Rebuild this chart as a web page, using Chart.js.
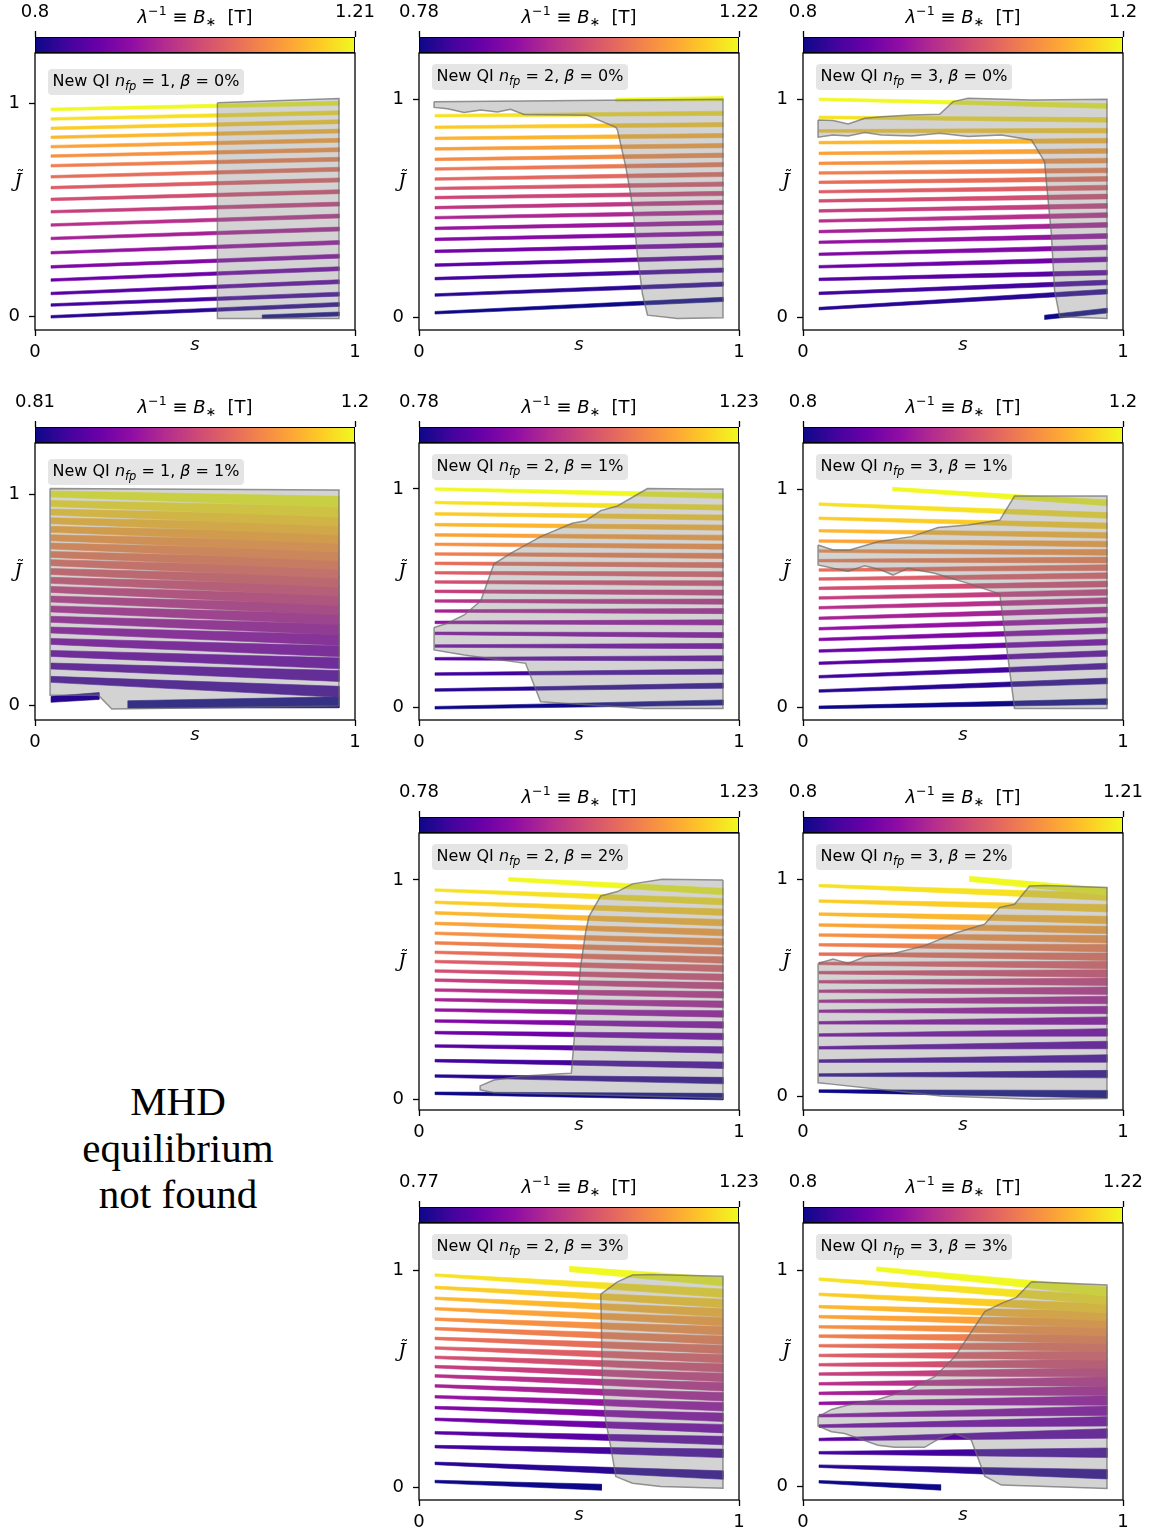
<!DOCTYPE html>
<html lang="en">
<head>
  <meta charset="UTF-8">
  <title>Second adiabatic invariant vs. s</title>
  <script src="https://cdn.jsdelivr.net/npm/chart.js"></script>
  <style>
    body {
      margin: 0;
      width: 1155px;
      height: 1535px;
      overflow: hidden;
      position: relative;
      background: #fff;
    }
    canvas { position: absolute; }
    .missing {
      position: absolute;
      left: 0;
      top: 1078px;
      width: 356px;
      text-align: center;
      font: 41px/46.5px 'Liberation Serif', serif;
      color: #000;
    }
  </style>
</head>
<body>
  <div class="missing">MHD<br>equilibrium<br>not found</div>

  <script>
    // ---------- data ----------
    const panelNfp  = [1, 2, 3, 1, 2, 3, 2, 3, 2, 3];
    const panelBeta = [0, 0, 0, 1, 1, 1, 2, 2, 3, 3];
    const bMin = [0.8, 0.78, 0.8, 0.81, 0.78, 0.8, 0.78, 0.8, 0.77, 0.8];
    const bMax = [1.21, 1.22, 1.2, 1.2, 1.23, 1.2, 1.23, 1.21, 1.23, 1.22];
    const jLow  = [-0.062, -0.056, -0.058, -0.071, -0.056, -0.058, -0.049, -0.061, -0.057, -0.061];
    const jHigh = [1.236, 1.212, 1.212, 1.244, 1.21, 1.211, 1.214, 1.213, 1.22, 1.217];
    const sTicks = [0, 1];
    const jTicks = [0, 1];

    // one entry per B* level, from highest to lowest: [s start, s end, J at start, J at end]
    const bands1 = [
      [0.05, 0.95, 0.972, 1.000], [0.05, 0.95, 0.927, 0.956], [0.05, 0.95, 0.883, 0.914],
      [0.05, 0.95, 0.841, 0.870], [0.05, 0.95, 0.797, 0.827], [0.05, 0.95, 0.753, 0.783],
      [0.05, 0.95, 0.708, 0.738], [0.05, 0.95, 0.656, 0.691], [0.05, 0.95, 0.605, 0.641],
      [0.05, 0.95, 0.550, 0.586], [0.05, 0.95, 0.492, 0.528], [0.05, 0.95, 0.430, 0.472],
      [0.05, 0.95, 0.367, 0.411], [0.05, 0.95, 0.300, 0.348], [0.05, 0.95, 0.234, 0.284],
      [0.05, 0.95, 0.172, 0.225], [0.05, 0.95, 0.109, 0.164], [0.05, 0.95, 0.055, 0.106],
      [0.05, 0.95, 0.000, 0.058], [0.71, 0.95, 0.000, 0.013]
    ];
    const bands2 = [
      [0.615, 0.95, 0.997, 1.003], [0.05, 0.95, 0.925, 0.936], [0.05, 0.95, 0.872, 0.884],
      [0.05, 0.95, 0.821, 0.834], [0.05, 0.95, 0.773, 0.788], [0.05, 0.95, 0.725, 0.744],
      [0.05, 0.95, 0.681, 0.701], [0.05, 0.95, 0.635, 0.656], [0.05, 0.95, 0.592, 0.612],
      [0.05, 0.95, 0.550, 0.569], [0.05, 0.95, 0.504, 0.528], [0.05, 0.95, 0.458, 0.482],
      [0.05, 0.95, 0.409, 0.435], [0.05, 0.95, 0.359, 0.386], [0.05, 0.95, 0.304, 0.333],
      [0.05, 0.95, 0.241, 0.276], [0.05, 0.95, 0.179, 0.218], [0.05, 0.95, 0.104, 0.154],
      [0.05, 0.95, 0.023, 0.084]
    ];
    const bands3 = [
      [0.05, 0.95, 1.000, 0.969], [0.05, 0.95, 0.917, 0.905], [0.05, 0.95, 0.855, 0.856],
      [0.05, 0.95, 0.801, 0.810], [0.05, 0.95, 0.752, 0.763], [0.05, 0.95, 0.706, 0.719],
      [0.05, 0.95, 0.662, 0.674], [0.05, 0.95, 0.619, 0.635], [0.05, 0.95, 0.576, 0.595],
      [0.05, 0.95, 0.534, 0.554], [0.05, 0.95, 0.488, 0.511], [0.05, 0.95, 0.442, 0.469],
      [0.05, 0.95, 0.393, 0.424], [0.05, 0.95, 0.344, 0.373], [0.05, 0.95, 0.289, 0.321],
      [0.05, 0.95, 0.232, 0.266], [0.05, 0.95, 0.174, 0.205], [0.05, 0.95, 0.110, 0.160],
      [0.05, 0.95, 0.040, 0.118], [0.755, 0.95, 0.000, 0.031]
    ];
    const bands4 = [
      [0.05, 0.95, 1.002, 0.965], [0.05, 0.95, 0.957, 0.918], [0.05, 0.95, 0.916, 0.875],
      [0.05, 0.95, 0.875, 0.834], [0.05, 0.95, 0.834, 0.793], [0.05, 0.95, 0.794, 0.752],
      [0.05, 0.95, 0.755, 0.710], [0.05, 0.95, 0.715, 0.669], [0.05, 0.95, 0.676, 0.628],
      [0.05, 0.95, 0.634, 0.585], [0.05, 0.95, 0.592, 0.543], [0.05, 0.95, 0.549, 0.498],
      [0.05, 0.95, 0.503, 0.454], [0.05, 0.95, 0.456, 0.407], [0.05, 0.95, 0.407, 0.359],
      [0.05, 0.95, 0.356, 0.309], [0.05, 0.95, 0.302, 0.255], [0.05, 0.95, 0.245, 0.198],
      [0.05, 0.95, 0.185, 0.138], [0.05, 0.95, 0.122, 0.063], [0.05, 0.20, 0.027, 0.043],
      [0.29, 0.95, 0.003, 0.013]
    ];
    const bands5 = [
      [0.05, 0.95, 1.000, 0.968], [0.05, 0.95, 0.938, 0.915], [0.05, 0.95, 0.886, 0.869],
      [0.05, 0.95, 0.837, 0.823], [0.05, 0.95, 0.790, 0.777], [0.05, 0.95, 0.747, 0.736],
      [0.05, 0.95, 0.703, 0.694], [0.05, 0.95, 0.660, 0.652], [0.05, 0.95, 0.617, 0.610],
      [0.05, 0.95, 0.575, 0.569], [0.05, 0.95, 0.532, 0.526], [0.05, 0.95, 0.488, 0.485],
      [0.05, 0.95, 0.442, 0.442], [0.05, 0.95, 0.390, 0.390], [0.05, 0.95, 0.340, 0.332],
      [0.05, 0.95, 0.282, 0.282], [0.05, 0.95, 0.224, 0.226], [0.05, 0.95, 0.154, 0.165],
      [0.05, 0.95, 0.081, 0.101], [0.05, 0.95, 0.000, 0.024]
    ];
    const bands6 = [
      [0.28, 0.95, 1.000, 0.937], [0.05, 0.95, 0.931, 0.879], [0.05, 0.95, 0.866, 0.831],
      [0.05, 0.95, 0.809, 0.788], [0.05, 0.95, 0.762, 0.748], [0.05, 0.95, 0.716, 0.710],
      [0.05, 0.95, 0.672, 0.675], [0.05, 0.95, 0.629, 0.640], [0.05, 0.95, 0.588, 0.603],
      [0.05, 0.95, 0.545, 0.565], [0.05, 0.95, 0.501, 0.527], [0.05, 0.95, 0.456, 0.489],
      [0.05, 0.95, 0.408, 0.446], [0.05, 0.95, 0.360, 0.400], [0.05, 0.95, 0.311, 0.351],
      [0.05, 0.95, 0.258, 0.299], [0.05, 0.95, 0.202, 0.247], [0.05, 0.95, 0.140, 0.189],
      [0.05, 0.95, 0.075, 0.121], [0.05, 0.95, 0.000, 0.026]
    ];
    const bands7 = [
      [0.28, 0.95, 1.003, 0.947], [0.05, 0.95, 0.954, 0.901], [0.05, 0.95, 0.898, 0.853],
      [0.05, 0.95, 0.850, 0.805], [0.05, 0.95, 0.802, 0.760], [0.05, 0.95, 0.757, 0.717],
      [0.05, 0.95, 0.713, 0.676], [0.05, 0.95, 0.670, 0.635], [0.05, 0.95, 0.628, 0.596],
      [0.05, 0.95, 0.585, 0.556], [0.05, 0.95, 0.543, 0.517], [0.05, 0.95, 0.498, 0.476],
      [0.05, 0.95, 0.454, 0.433], [0.05, 0.95, 0.407, 0.389], [0.05, 0.95, 0.357, 0.339],
      [0.05, 0.95, 0.304, 0.286], [0.05, 0.95, 0.243, 0.225], [0.05, 0.95, 0.176, 0.155],
      [0.05, 0.95, 0.106, 0.085], [0.05, 0.95, 0.027, 0.012]
    ];
    const bands8 = [
      [0.52, 0.95, 1.002, 0.943], [0.05, 0.95, 0.971, 0.920], [0.05, 0.95, 0.900, 0.867],
      [0.05, 0.95, 0.840, 0.813], [0.05, 0.95, 0.790, 0.767], [0.05, 0.95, 0.744, 0.724],
      [0.05, 0.95, 0.699, 0.683], [0.05, 0.95, 0.656, 0.644], [0.05, 0.95, 0.613, 0.606],
      [0.05, 0.95, 0.571, 0.567], [0.05, 0.95, 0.529, 0.529], [0.05, 0.95, 0.485, 0.488],
      [0.05, 0.95, 0.439, 0.445], [0.05, 0.95, 0.393, 0.399], [0.05, 0.95, 0.340, 0.350],
      [0.05, 0.95, 0.284, 0.296], [0.05, 0.95, 0.225, 0.238], [0.05, 0.95, 0.164, 0.176],
      [0.05, 0.95, 0.100, 0.104], [0.05, 0.95, 0.026, 0.012]
    ];
    const bands9 = [
      [0.47, 0.95, 1.008, 0.949], [0.05, 0.95, 0.980, 0.896], [0.05, 0.95, 0.923, 0.849],
      [0.05, 0.95, 0.873, 0.806], [0.05, 0.95, 0.825, 0.765], [0.05, 0.95, 0.777, 0.723],
      [0.05, 0.95, 0.733, 0.680], [0.05, 0.95, 0.688, 0.637], [0.05, 0.95, 0.644, 0.594],
      [0.05, 0.95, 0.601, 0.551], [0.05, 0.95, 0.558, 0.508], [0.05, 0.95, 0.515, 0.465],
      [0.05, 0.95, 0.469, 0.419], [0.05, 0.95, 0.419, 0.373], [0.05, 0.95, 0.369, 0.324],
      [0.05, 0.95, 0.315, 0.272], [0.05, 0.95, 0.253, 0.217], [0.05, 0.95, 0.189, 0.158],
      [0.05, 0.95, 0.112, 0.058], [0.05, 0.57, 0.028, 0.002]
    ];
    const bands10 = [
      [0.23, 0.95, 1.005, 0.900], [0.05, 0.95, 0.958, 0.862], [0.05, 0.95, 0.888, 0.823],
      [0.05, 0.95, 0.831, 0.788], [0.05, 0.95, 0.785, 0.754], [0.05, 0.95, 0.738, 0.718],
      [0.05, 0.95, 0.695, 0.682], [0.05, 0.95, 0.651, 0.645], [0.05, 0.95, 0.606, 0.606],
      [0.05, 0.95, 0.563, 0.568], [0.05, 0.95, 0.520, 0.528], [0.05, 0.95, 0.475, 0.486],
      [0.05, 0.95, 0.431, 0.443], [0.05, 0.95, 0.385, 0.398], [0.05, 0.95, 0.328, 0.351],
      [0.05, 0.95, 0.280, 0.302], [0.05, 0.95, 0.218, 0.246], [0.05, 0.95, 0.157, 0.157],
      [0.05, 0.95, 0.095, 0.058], [0.05, 0.43, 0.023, -0.003]
    ];

    // grey regions, outline points [s, J]
    const shade1 = [[0.57, 1.003], [0.95, 1.023], [0.95, -0.008], [0.57, -0.008]];
    const shade2 = [[0.047, 0.989], [0.95, 1.0], [0.95, 0.0], [0.807, -0.003], [0.714, 0.012],
      [0.698, 0.111], [0.682, 0.295], [0.670, 0.478], [0.661, 0.569], [0.646, 0.692],
      [0.620, 0.860], [0.615, 0.872], [0.526, 0.927], [0.328, 0.931], [0.286, 0.954],
      [0.245, 0.942], [0.193, 0.951], [0.141, 0.940], [0.089, 0.957], [0.047, 0.963]];
    const shade3 = [[0.047, 0.905], [0.094, 0.902], [0.141, 0.887], [0.193, 0.913], [0.245, 0.920],
      [0.339, 0.928], [0.427, 0.931], [0.469, 0.989], [0.516, 1.005], [0.714, 0.997], [0.95, 1.0],
      [0.95, -0.005], [0.802, 0.003], [0.786, 0.125], [0.776, 0.385], [0.760, 0.630], [0.755, 0.714],
      [0.714, 0.813], [0.620, 0.836], [0.516, 0.829], [0.427, 0.844], [0.339, 0.832], [0.245, 0.836],
      [0.193, 0.847], [0.141, 0.832], [0.094, 0.836], [0.047, 0.826]];
    const shade4 = [[0.047, 1.028], [0.95, 1.021], [0.95, -0.005], [0.24, -0.019], [0.198, 0.047],
      [0.047, 0.047]];
    const shade5 = [[0.047, 0.367], [0.047, 0.264], [0.141, 0.241], [0.333, 0.203], [0.380, 0.027],
      [0.703, -0.003], [0.95, -0.003], [0.95, 1.0], [0.859, 1.0], [0.714, 1.002], [0.620, 0.922],
      [0.568, 0.901], [0.521, 0.855], [0.479, 0.843], [0.380, 0.782], [0.286, 0.706], [0.234, 0.657],
      [0.193, 0.489], [0.141, 0.424], [0.089, 0.386]];
    const shade6 = [[0.047, 0.744], [0.094, 0.721], [0.146, 0.721], [0.234, 0.759], [0.339, 0.782],
      [0.422, 0.824], [0.516, 0.835], [0.615, 0.858], [0.661, 0.968], [0.95, 0.968], [0.95, -0.005],
      [0.661, -0.005], [0.615, 0.519], [0.516, 0.568], [0.411, 0.614], [0.328, 0.637], [0.281, 0.606],
      [0.245, 0.629], [0.193, 0.649], [0.141, 0.624], [0.094, 0.637], [0.047, 0.652]];
    const shade7 = [[0.95, 1.0], [0.760, 1.003], [0.667, 0.982], [0.620, 0.947], [0.568, 0.927],
      [0.531, 0.833], [0.521, 0.764], [0.505, 0.605], [0.490, 0.362], [0.476, 0.119], [0.443, 0.116],
      [0.328, 0.106], [0.234, 0.088], [0.191, 0.061], [0.191, 0.043], [0.234, 0.030], [0.516, 0.020],
      [0.95, 0.005]];
    const shade8 = [[0.047, 0.613], [0.094, 0.633], [0.141, 0.613], [0.193, 0.644], [0.286, 0.660],
      [0.380, 0.695], [0.474, 0.752], [0.568, 0.794], [0.615, 0.871], [0.661, 0.885], [0.708, 0.969],
      [0.755, 0.972], [0.95, 0.962], [0.95, -0.008], [0.724, -0.011], [0.432, 0.003], [0.307, 0.023],
      [0.089, 0.058], [0.047, 0.064]];
    const shade9 = [[0.568, 0.892], [0.620, 0.949], [0.667, 0.980], [0.724, 0.983], [0.95, 0.975],
      [0.95, -0.003], [0.755, 0.005], [0.667, 0.020], [0.615, 0.051], [0.599, 0.189], [0.583, 0.312],
      [0.573, 0.496]];
    const shade10 = [[0.714, 0.946], [0.95, 0.931], [0.95, -0.008], [0.620, 0.008], [0.568, 0.049],
      [0.526, 0.215], [0.474, 0.246], [0.427, 0.223], [0.380, 0.182], [0.286, 0.182], [0.234, 0.192],
      [0.130, 0.246], [0.089, 0.254], [0.047, 0.280], [0.047, 0.323], [0.089, 0.357], [0.141, 0.377],
      [0.234, 0.403], [0.328, 0.446], [0.411, 0.508], [0.474, 0.600], [0.516, 0.692], [0.568, 0.808],
      [0.620, 0.846], [0.667, 0.874]];

    const allBands = [bands1, bands2, bands3, bands4, bands5, bands6, bands7, bands8, bands9, bands10];
    const allShades = [shade1, shade2, shade3, shade4, shade5, shade6, shade7, shade8, shade9, shade10];

    // ---------- layout and style ----------
    const CELL_W = 384, CELL_H = 390;
    const AREA = { left: 35, top: 53, right: 355, bottom: 330 };
    const BAR_TOP = 37;
    const gridPos = [[0, 0], [1, 0], [2, 0], [0, 1], [1, 1], [2, 1], [1, 2], [2, 2], [1, 3], [2, 3]];
    const taperPx = [[2.6, 4], [2.6, 4.3], [2.6, 4.8], [6, 11], [2.6, 5.2], [2.6, 5.8], [2.6, 6.5],
                     [2.6, 7.5], [2.6, 8.5], [2.6, 9.5]];
    const legendDrop = [16, 11, 11, 16, 11, 11, 11, 11, 11, 11];
    const FAMILY = "'DejaVu Sans', sans-serif";
    const plasmaStops = ['#0d0887', '#41049d', '#6a00a8', '#8f0da4', '#b12a90', '#cc4778',
                         '#e16462', '#f2844b', '#fca636', '#fcce25', '#f0f921'];

    Chart.defaults.font.family = FAMILY;
    Chart.defaults.color = '#000';

    // colormap lookup
    function plasma(t) {
      const rgb = plasmaStops.map(h => [1, 3, 5].map(p => parseInt(h.substr(p, 2), 16)));
      const f = Math.min(Math.max(t, 0), 1) * (rgb.length - 1);
      const i = Math.min(Math.floor(f), rgb.length - 2);
      const u = f - i;
      const c = rgb[i].map((v, k) => Math.round(v + (rgb[i + 1][k] - v) * u));
      return `rgb(${c[0]}, ${c[1]}, ${c[2]})`;
    }

    function plasmaGradient(chart) {
      const a = chart.chartArea;
      if (!a) return plasmaStops[0];
      const g = chart.ctx.createLinearGradient(a.left, 0, a.right, 0);
      plasmaStops.forEach((c, i) => g.addColorStop(i / (plasmaStops.length - 1), c));
      return g;
    }

    function makeCanvas(x, y, w, h) {
      const c = document.createElement('canvas');
      c.width = w;
      c.height = h;
      c.style.left = x + 'px';
      c.style.top = y + 'px';
      c.style.width = w + 'px';
      c.style.height = h + 'px';
      document.body.appendChild(c);
      return c;
    }

    // draws a run of differently styled text pieces, returns total width
    function drawRuns(ctx, runs, x, y, measureOnly) {
      let w = 0;
      runs.forEach(r => {
        ctx.font = r.font;
        if (!measureOnly) ctx.fillText(r.text, x + w, y + (r.dy || 0));
        w += ctx.measureText(r.text).width;
      });
      return w;
    }

    const frameAndText = {
      id: 'frameAndText',
      afterDraw(chart, args, opts) {
        const { ctx, chartArea: a } = chart;
        ctx.save();
        ctx.strokeStyle = '#000';
        ctx.lineWidth = 1.3;
        ctx.strokeRect(a.left, a.top, a.right - a.left, a.bottom - a.top);

        // legend label
        const runs = [
          { text: 'New QI ', font: `16px ${FAMILY}` },
          { text: 'n', font: `italic 16px ${FAMILY}` },
          { text: 'fp', font: `italic 11.5px ${FAMILY}`, dy: 4 },
          { text: ` = ${opts.nfp}, `, font: `16px ${FAMILY}` },
          { text: 'β', font: `italic 16px ${FAMILY}` },
          { text: ` = ${opts.beta}%`, font: `16px ${FAMILY}` }
        ];
        const tw = drawRuns(ctx, runs, 0, 0, true);
        const bx = a.left + 13, by = a.top + opts.drop;
        ctx.fillStyle = '#e5e5e5';
        ctx.beginPath();
        ctx.roundRect(bx, by, tw + 9, 26, 4);
        ctx.fill();
        ctx.fillStyle = '#000';
        ctx.textBaseline = 'alphabetic';
        drawRuns(ctx, runs, bx + 4.5, by + 16.5);

        // axis titles
        ctx.font = `italic 18px ${FAMILY}`;
        ctx.textAlign = 'center';
        ctx.fillText('s', (a.left + a.right) / 2, a.bottom + 20);
        ctx.font = "italic 19px 'DejaVu Serif', serif";
        ctx.fillText('J', a.left - 17, 187);
        ctx.font = `16px ${FAMILY}`;
        ctx.fillText('˜', a.left - 14.5, 181);
        ctx.restore();
      }
    };

    const barTitle = {
      id: 'barTitle',
      afterDraw(chart) {
        const { ctx, chartArea: a } = chart;
        const runs = [
          { text: 'λ', font: `italic 18px ${FAMILY}` },
          { text: '−1', font: `12.6px ${FAMILY}`, dy: -7.5 },
          { text: ' ≡ ', font: `18px ${FAMILY}` },
          { text: 'B', font: `italic 18px ${FAMILY}` },
          { text: '∗', font: `12.6px ${FAMILY}`, dy: 3 },
          { text: '  [T]', font: `18px ${FAMILY}` }
        ];
        ctx.save();
        ctx.fillStyle = '#000';
        ctx.textBaseline = 'alphabetic';
        const w = drawRuns(ctx, runs, 0, 0, true);
        drawRuns(ctx, runs, (a.left + a.right) / 2 - w / 2, 22.5);
        ctx.restore();
      }
    };

    const tickFont = { family: FAMILY, size: 18 };
    const tickGrid = { drawOnChartArea: false, tickLength: 6, tickWidth: 1.3, tickColor: '#000' };

    allBands.forEach((bands, k) => {
      const [col, row] = gridPos[k];
      const left = col * CELL_W, top = row * CELL_H;

      // band polygons, thickness tapers along s
      const pxPerJ = (AREA.bottom - AREA.top) / (jHigh[k] - jLow[k]);
      const [wL, wR] = taperPx[k];
      const half = s => (wL + (wR - wL) * (s - 0.05) / 0.9) / 2 / pxPerJ;

      const bandSets = bands.map(([s0, s1, j0, j1], i) => {
        const color = plasma(1 - i / (bands.length - 1));
        const h0 = half(s0), h1 = half(s1);
        return {
          data: [
            { x: s0, y: j0 + h0 }, { x: s1, y: j1 + h1 },
            { x: s1, y: j1 - h1 }, { x: s0, y: j0 - h0 }, { x: s0, y: j0 + h0 }
          ],
          fill: 'shape',
          backgroundColor: color,
          borderColor: color,
          borderWidth: 0.6,
          pointRadius: 0,
          order: 1
        };
      });

      const shadePts = allShades[k].map(([s, j]) => ({ x: s, y: j }));
      shadePts.push({ ...shadePts[0] });
      const shadeSet = {
        data: shadePts,
        fill: 'shape',
        backgroundColor: 'rgba(128, 128, 128, 0.35)',
        borderColor: 'rgba(105, 105, 105, 0.7)',
        borderWidth: 1.5,
        pointRadius: 0,
        order: 0
      };

      new Chart(makeCanvas(left, top, CELL_W, CELL_H), {
        type: 'line',
        data: { datasets: [shadeSet, ...bandSets] },
        options: {
          animation: false,
          responsive: false,
          devicePixelRatio: 1,
          events: [],
          layout: { padding: { left: 0, top: AREA.top, right: CELL_W - AREA.right, bottom: 0 } },
          elements: { line: { tension: 0 } },
          plugins: {
            legend: { display: false },
            tooltip: { enabled: false },
            frameAndText: { nfp: panelNfp[k], beta: panelBeta[k], drop: legendDrop[k] }
          },
          scales: {
            x: {
              type: 'linear', min: 0, max: 1,
              afterFit: s => { s.height = CELL_H - AREA.bottom; },
              afterBuildTicks: s => { s.ticks = sTicks.map(v => ({ value: v })); },
              ticks: { font: tickFont, color: '#000', padding: 5.5, maxRotation: 0, autoSkip: false, callback: v => String(v) },
              grid: tickGrid,
              border: { display: false }
            },
            y: {
              type: 'linear', min: jLow[k], max: jHigh[k],
              afterFit: s => { s.width = AREA.left; },
              afterBuildTicks: s => { s.ticks = jTicks.map(v => ({ value: v })); },
              ticks: { font: tickFont, color: '#000', padding: 9, autoSkip: false, callback: v => String(v) },
              grid: tickGrid,
              border: { display: false }
            }
          }
        },
        plugins: [frameAndText]
      });

      // colourbar on top of each panel
      new Chart(makeCanvas(left, top, CELL_W, AREA.top), {
        type: 'bar',
        data: {
          labels: [''],
          datasets: [{
            data: [[bMin[k], bMax[k]]],
            backgroundColor: ctx => plasmaGradient(ctx.chart),
            borderColor: '#000',
            borderWidth: 1.3,
            borderSkipped: false,
            barPercentage: 1,
            categoryPercentage: 1
          }]
        },
        options: {
          indexAxis: 'y',
          animation: false,
          responsive: false,
          devicePixelRatio: 1,
          events: [],
          layout: { padding: { left: AREA.left, top: 0, right: CELL_W - AREA.right, bottom: 0 } },
          plugins: { legend: { display: false }, tooltip: { enabled: false } },
          scales: {
            x: {
              type: 'linear', position: 'top', min: bMin[k], max: bMax[k],
              afterFit: s => { s.height = BAR_TOP; },
              afterBuildTicks: s => { s.ticks = [{ value: bMin[k] }, { value: bMax[k] }]; },
              ticks: { font: tickFont, color: '#000', padding: 8, maxRotation: 0, autoSkip: false, callback: v => String(v) },
              grid: tickGrid,
              border: { display: false }
            },
            y: { display: false }
          }
        },
        plugins: [barTitle]
      });
    });
  </script>
</body>
</html>
